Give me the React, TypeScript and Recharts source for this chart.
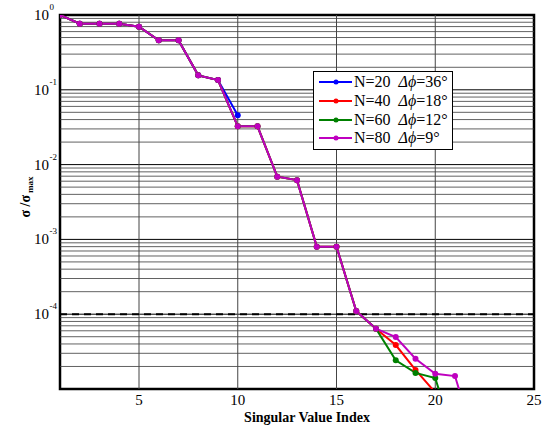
import { LineChart, Line, XAxis, YAxis, ReferenceLine, ReferenceArea, Legend } from "recharts";

const indices = [1, 2, 3, 4, 5, 6, 7, 8, 9, 10, 11, 12, 13, 14, 15, 16, 17, 18, 19, 20, 21, 22];

const n20 = [1, 0.765, 0.765, 0.765, 0.698, 0.458, 0.458, 0.156, 0.135, 0.0456];
const common = [1, 0.765, 0.765, 0.765, 0.698, 0.458, 0.458, 0.156, 0.135, 0.0325, 0.0325, 0.0069, 0.0062, 0.0008, 0.0008, 1.1e-4, 6.4e-5];
const n40 = [...common, 3.87e-5, 1.8e-5, 9e-6];
const n60 = [...common, 2.42e-5, 1.64e-5, 1.4e-5, 2e-6];
const n80 = [...common, 4.95e-5, 2.54e-5, 1.6e-5, 1.49e-5, 2e-6];

const xTicks = [5, 10, 15, 20, 25];
const yTicks = [1, 0.1, 0.01, 0.001, 0.0001, 0.00001];
const yExp = ["0", "-1", "-2", "-3", "-4", ""];
const threshold = 1e-4;

const series = [
  { key: "n20", color: "#0000ff", n: "20", dphi: "36°" },
  { key: "n40", color: "#ff0000", n: "40", dphi: "18°" },
  { key: "n60", color: "#008000", n: "60", dphi: "12°" },
  { key: "n80", color: "#bf00bf", n: "80", dphi: "9°" },
];

const data = indices.map((x, i) => ({
  x,
  n20: n20[i] ?? null,
  n40: n40[i] ?? null,
  n60: n60[i] ?? null,
  n80: n80[i] ?? null,
}));

// minor log grid: 2..9 x 10^e
const minorLines: number[] = [];
for (let e = -5; e < 0; e++) {
  for (let k = 2; k <= 9; k++) minorLines.push(k * Math.pow(10, e));
}

const serif = "Liberation Serif, DejaVu Serif, serif";

const YTick = (props: any) => {
  const { y, index } = props;
  const exp = yExp[index];
  if (!exp) return null;
  return (
    <g>
      <text x={49} y={y + 5} textAnchor="end" fontSize={15} fill="#000" style={{ fontFamily: serif }}>10</text>
      <text x={49.5} y={y - 5} textAnchor="start" fontSize={9} fill="#000" style={{ fontFamily: serif }}>{exp}</text>
    </g>
  );
};

const XTick = (props: any) => {
  const { x, payload } = props;
  return (
    <text x={x} y={405} textAnchor="middle" fontSize={15} fill="#000" style={{ fontFamily: serif }}>
      {payload.value}
    </text>
  );
};

const LegendBox = () => (
  <div
    style={{
      width: 138,
      height: 76,
      border: "1.5px solid #000",
      background: "#fff",
      paddingTop: 1,
      fontFamily: serif,
      fontSize: 16,
      boxSizing: "content-box",
    }}
  >
    {series.map((s) => (
      <div key={s.key} style={{ display: "flex", alignItems: "center", height: 18.7, whiteSpace: "pre" }}>
        <svg width={40} height={18} style={{ flex: "none" }}>
          <line x1={5} y1={9} x2={38} y2={9} stroke={s.color} strokeWidth={2} />
          <circle cx={22} cy={9} r={2.5} fill={s.color} />
        </svg>
        <span style={{ lineHeight: "18px", fontFamily: serif }}>
          N={s.n}  <i>Δϕ</i>={s.dphi}
        </span>
      </div>
    ))}
  </div>
);

export default function App() {
  return (
    <div style={{ position: "absolute", left: 0, top: 0, width: 552, height: 429, background: "#fff", fontFamily: serif }}>
      <LineChart width={552} height={429} data={data} margin={{ top: 15, right: 18, bottom: 0, left: 0 }}>
        {minorLines.map((v) => (
          <ReferenceLine key={"m" + v} y={v} stroke="#3a3a3a" strokeWidth={0.8} />
        ))}
        {yTicks.map((v) => (
          <ReferenceLine key={"M" + v} y={v} stroke="#000" strokeWidth={1} />
        ))}
        {[5, 10, 15, 20].map((v) => (
          <ReferenceLine key={"v" + v} x={v} stroke="#444" strokeWidth={1} />
        ))}
        <XAxis
          dataKey="x"
          type="number"
          domain={[1, 25]}
          ticks={xTicks}
          allowDataOverflow
          height={40}
          axisLine={false}
          tickLine={false}
          tick={<XTick />}
          label={{
            content: () => (
              <text x={307} y={422} textAnchor="middle" fontSize={14} fontWeight="bold" fill="#000" style={{ fontFamily: serif }}>
                Singular Value Index
              </text>
            ),
          }}
        />
        <YAxis
          type="number"
          scale="log"
          domain={[1e-5, 1]}
          ticks={yTicks}
          allowDataOverflow
          width={60}
          axisLine={false}
          tickLine={false}
          tick={<YTick />}
          label={{
            content: () => (
              <text
                x={30}
                y={197}
                transform="rotate(-90, 30, 197)"
                textAnchor="middle"
                fontSize={14}
                fontWeight="bold"
                fill="#000"
                style={{ fontFamily: serif }}
              >
                σ /σ<tspan fontSize={9} dx={2} dy={3}>max</tspan>
              </text>
            ),
          }}
        />
        <ReferenceLine y={threshold} stroke="#000" strokeWidth={2} strokeDasharray="7 5" />
        {series.map((s) => (
          <Line
            key={s.key}
            dataKey={s.key}
            stroke={s.color}
            strokeWidth={2}
            dot={{ r: 3, fill: s.color, stroke: s.color, strokeWidth: 0 }}
            activeDot={false}
            isAnimationActive={false}
            connectNulls={false}
          />
        ))}
        <ReferenceArea x1={1} x2={25} y1={1e-5} y2={1} fill="none" stroke="#000" strokeWidth={2.5} />
        <Legend
          layout="vertical"
          align="center"
          verticalAlign="middle"
          content={<LegendBox />}
          wrapperStyle={{ left: 313, top: 71, width: 142, height: 80 }}
        />
      </LineChart>
    </div>
  );
}
